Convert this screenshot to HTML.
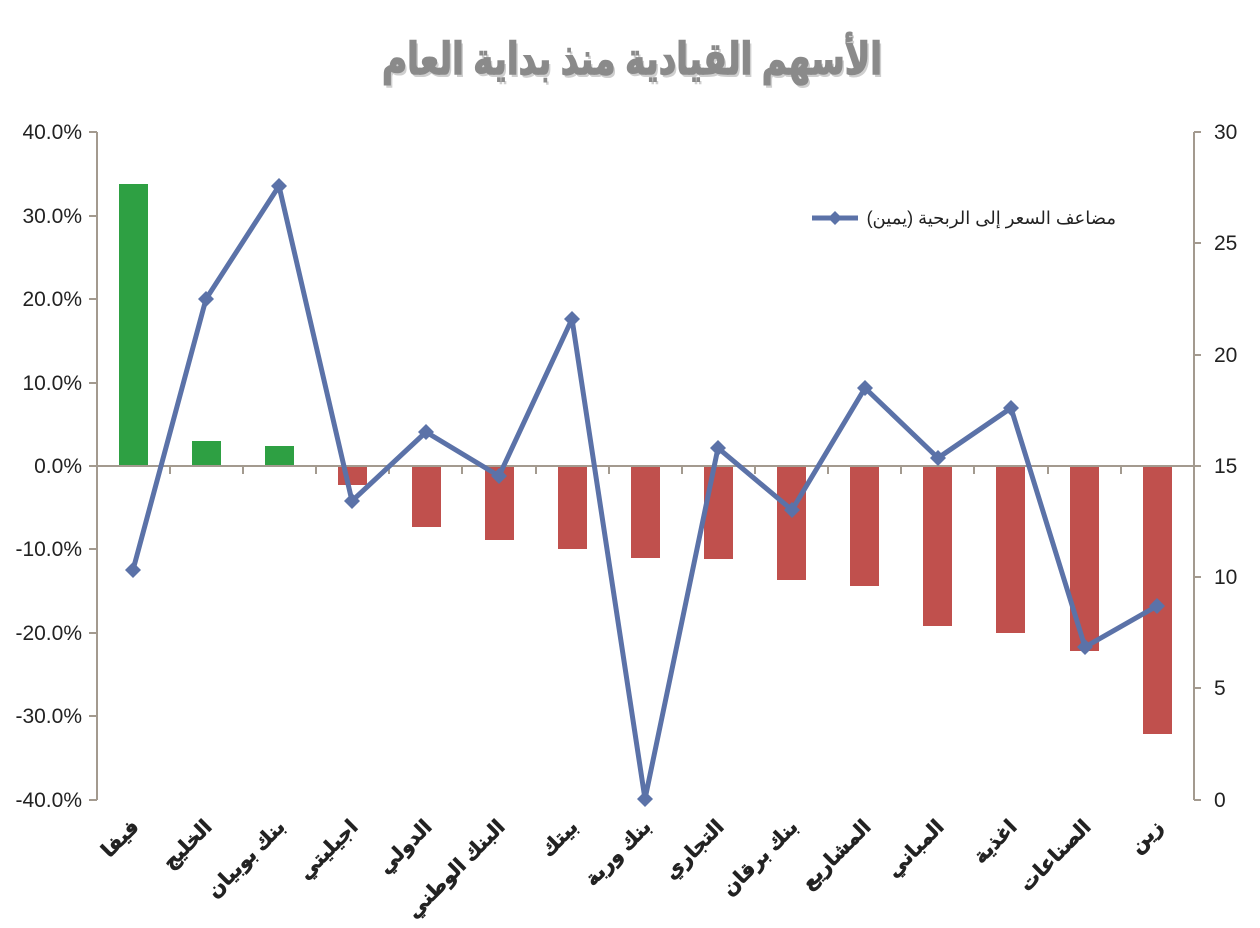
<!DOCTYPE html>
<html><head><meta charset="utf-8"><style>
html,body{margin:0;padding:0;background:#fff;}
svg{display:block;}
text{font-family:"Liberation Sans","DejaVu Sans",sans-serif;}
</style></head><body>
<svg width="1260" height="928" viewBox="0 0 1260 928" xmlns="http://www.w3.org/2000/svg">
<text x="632" y="74" text-anchor="middle" font-size="44" font-weight="bold" fill="#cfcfcf" font-family="'DejaVu Sans',sans-serif" textLength="500" lengthAdjust="spacingAndGlyphs" transform="translate(2,3)">الأسهم القيادية منذ بداية العام</text>
<text x="632" y="74" text-anchor="middle" font-size="44" font-weight="bold" fill="#8a8a8a" stroke="#8a8a8a" stroke-width="1.5" font-family="'DejaVu Sans',sans-serif" textLength="500" lengthAdjust="spacingAndGlyphs">الأسهم القيادية منذ بداية العام</text>
<g stroke="#a39a8f" stroke-width="2" fill="none">
<line x1="97" y1="132" x2="97" y2="800"/>
<line x1="1194" y1="132" x2="1194" y2="800"/>
<path d="M89 132H97M89 216H97M89 299H97M89 383H97M89 466H97M89 549H97M89 633H97M89 716H97M89 800H97"/>
<path d="M1194 132H1201M1194 243H1201M1194 355H1201M1194 466H1201M1194 577H1201M1194 688H1201M1194 800H1201"/>
</g>
<g font-size="21" fill="#222" text-anchor="end">
<text x="82" y="139">40.0%</text><text x="82" y="223">30.0%</text><text x="82" y="306">20.0%</text><text x="82" y="390">10.0%</text><text x="82" y="473">0.0%</text><text x="82" y="556">-10.0%</text><text x="82" y="640">-20.0%</text><text x="82" y="723">-30.0%</text><text x="82" y="807">-40.0%</text>
</g>
<g font-size="21" fill="#222">
<text x="1214" y="139">30</text><text x="1214" y="250">25</text><text x="1214" y="362">20</text><text x="1214" y="473">15</text><text x="1214" y="584">10</text><text x="1214" y="695">5</text><text x="1214" y="807">0</text>
</g>
<g fill="#2ea043">
<rect x="119" y="184" width="29" height="282"/>
<rect x="192" y="441" width="29" height="25"/>
<rect x="265" y="446" width="29" height="20"/>
</g>
<g fill="#c0504d">
<rect x="338" y="466" width="29" height="19"/>
<rect x="412" y="466" width="29" height="61"/>
<rect x="485" y="466" width="29" height="74"/>
<rect x="558" y="466" width="29" height="83"/>
<rect x="631" y="466" width="29" height="92"/>
<rect x="704" y="466" width="29" height="93"/>
<rect x="777" y="466" width="29" height="114"/>
<rect x="850" y="466" width="29" height="120"/>
<rect x="923" y="466" width="29" height="160"/>
<rect x="996" y="466" width="29" height="167"/>
<rect x="1070" y="466" width="29" height="185"/>
<rect x="1143" y="466" width="29" height="268"/>
</g>
<line x1="97" y1="466" x2="1194" y2="466" stroke="#a39a8f" stroke-width="2"/>
<path d="M170 466v8M243 466v8M316 466v8M389 466v8M462 466v8M536 466v8M609 466v8M682 466v8M755 466v8M828 466v8M901 466v8M974 466v8M1048 466v8M1121 466v8" stroke="#a39a8f" stroke-width="2"/>
<polyline fill="none" stroke="#5b72a8" stroke-width="5" stroke-linejoin="round" points="133,570 206,299 279,186 352,501 426,432 499,476 572,319 645,799 718,448 792,510 865,388 938,458 1011,408 1085,647 1157,606"/>
<g fill="#5b72a8">
<path d="M133 562l8 8-8 8-8-8z"/><path d="M206 291l8 8-8 8-8-8z"/><path d="M279 178l8 8-8 8-8-8z"/><path d="M352 493l8 8-8 8-8-8z"/><path d="M426 424l8 8-8 8-8-8z"/><path d="M499 468l8 8-8 8-8-8z"/><path d="M572 311l8 8-8 8-8-8z"/><path d="M645 791l8 8-8 8-8-8z"/><path d="M718 440l8 8-8 8-8-8z"/><path d="M792 502l8 8-8 8-8-8z"/><path d="M865 380l8 8-8 8-8-8z"/><path d="M938 450l8 8-8 8-8-8z"/><path d="M1011 400l8 8-8 8-8-8z"/><path d="M1085 639l8 8-8 8-8-8z"/><path d="M1157 598l8 8-8 8-8-8z"/>
</g>
<line x1="812" y1="218" x2="858" y2="218" stroke="#5b72a8" stroke-width="5"/>
<path d="M835 211l7 7-7 7-7-7z" fill="#5b72a8"/>
<text x="1116" y="224" text-anchor="end" font-size="18" fill="#222" font-family="'DejaVu Sans',sans-serif">مضاعف السعر إلى الربحية (يمين)</text>
<g font-size="20" font-weight="bold" fill="#222" stroke="#222" stroke-width="0.6" text-anchor="end" font-family="'DejaVu Sans',sans-serif">
<text transform="translate(140,828) rotate(-45)">فيفا</text>
<text transform="translate(213,828) rotate(-45)">الخليج</text>
<text transform="translate(286,828) rotate(-45)">بنك بوبيان</text>
<text transform="translate(359,828) rotate(-45)">اجيليتي</text>
<text transform="translate(433,828) rotate(-45)">الدولي</text>
<text transform="translate(506,828) rotate(-45)">البنك الوطني</text>
<text transform="translate(579,828) rotate(-45)">بيتك</text>
<text transform="translate(652,828) rotate(-45)">بنك وربة</text>
<text transform="translate(725,828) rotate(-45)">التجاري</text>
<text transform="translate(799,828) rotate(-45)">بنك برقان</text>
<text transform="translate(872,828) rotate(-45)">المشاريع</text>
<text transform="translate(945,828) rotate(-45)">المباني</text>
<text transform="translate(1018,828) rotate(-45)">اغذية</text>
<text transform="translate(1092,828) rotate(-45)">الصناعات</text>
<text transform="translate(1164,828) rotate(-45)">زين</text>
</g>
</svg>
</body></html>
